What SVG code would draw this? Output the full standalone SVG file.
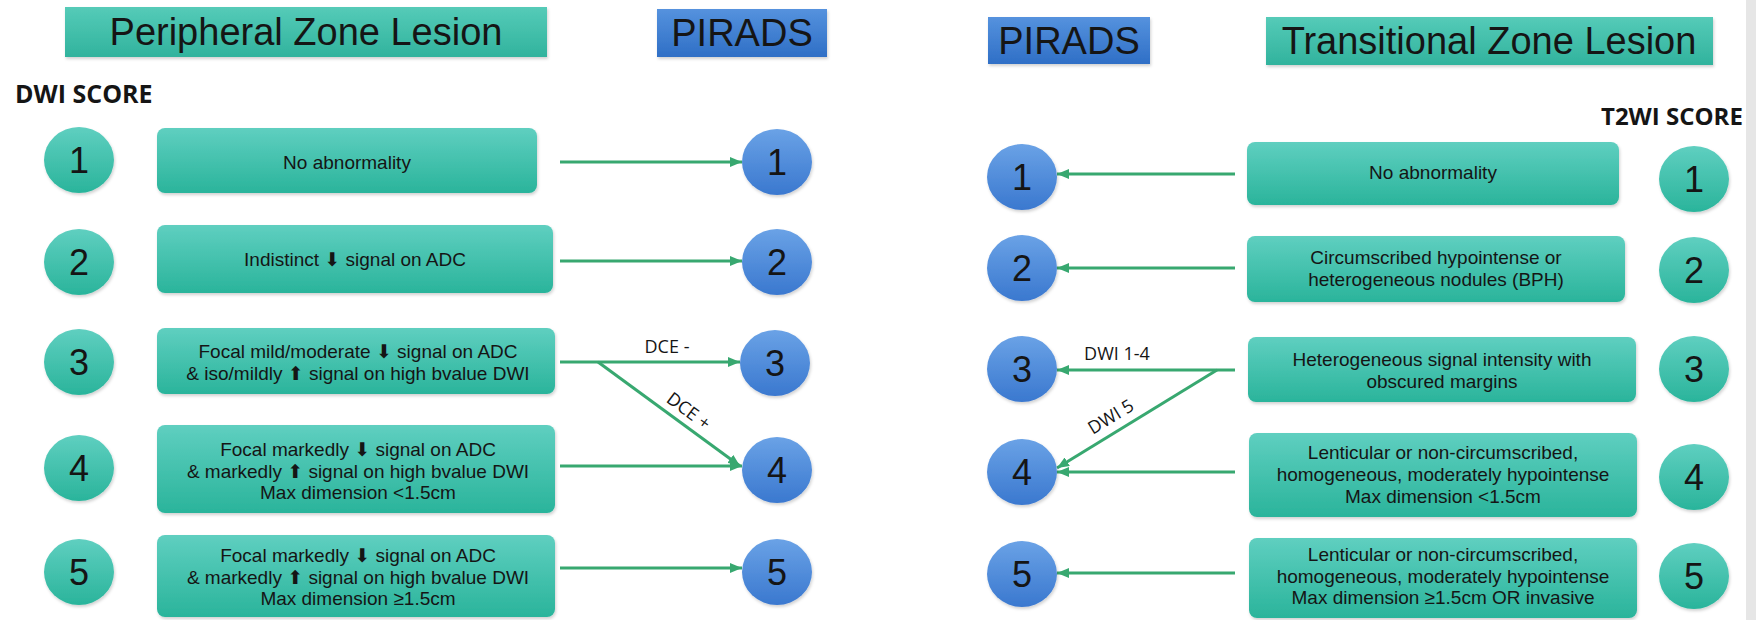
<svg xmlns="http://www.w3.org/2000/svg" width="1756" height="620" viewBox="0 0 1756 620">
<defs>
<linearGradient id="teal" x1="0" y1="0" x2="0" y2="1">
<stop offset="0" stop-color="#5fcfc0"/>
<stop offset="1" stop-color="#2ab49b"/>
</linearGradient>
<linearGradient id="tealH" x1="0" y1="0" x2="0" y2="1">
<stop offset="0" stop-color="#55cbb8"/>
<stop offset="1" stop-color="#31b39d"/>
</linearGradient>
<linearGradient id="blue" x1="0" y1="0" x2="0" y2="1">
<stop offset="0" stop-color="#6aa2e6"/>
<stop offset="1" stop-color="#3a78cf"/>
</linearGradient>
<linearGradient id="blueH" x1="0" y1="0" x2="0" y2="1">
<stop offset="0" stop-color="#5592de"/>
<stop offset="1" stop-color="#2f6fc6"/>
</linearGradient>
<marker id="ah" markerUnits="userSpaceOnUse" markerWidth="12" markerHeight="10" refX="12" refY="5" orient="auto">
<path d="M0,0 L12,5 L0,10 z" fill="#38a870"/>
</marker>
<filter id="sh" x="-5%" y="-10%" width="110%" height="125%">
<feDropShadow dx="1" dy="2" stdDeviation="1.5" flood-color="#000" flood-opacity="0.18"/>
</filter>
</defs>
<style>
.box{fill:url(#teal);filter:url(#sh)}
.tc{fill:url(#teal);filter:url(#sh)}
.bc{fill:url(#blue);filter:url(#sh)}
.hT{fill:url(#tealH);filter:url(#sh)}
.hB{fill:url(#blueH);filter:url(#sh)}
.t{font-family:'Liberation Sans',Arial,sans-serif;font-size:19px;fill:#151515;text-anchor:middle}
.n{font-family:'Liberation Sans',Arial,sans-serif;font-size:36px;fill:#151515;text-anchor:middle}
.h{font-family:'Liberation Sans',Arial,sans-serif;font-size:38px;fill:#151515;text-anchor:middle}
.lb{font-family:'Open Sans','Liberation Sans',sans-serif;font-size:18px;fill:#151515;text-anchor:middle}
.sc{font-family:'Open Sans','Liberation Sans',sans-serif;font-size:25px;font-weight:bold;fill:#151515}
.ar{font-family:'DejaVu Sans',sans-serif;font-size:19px}
.conn line{stroke:#38a870;stroke-width:3;marker-end:url(#ah)}
</style>
<rect width="1756" height="620" fill="#ffffff"/>

<g id="hdr-pz"><rect class="hT" x="65" y="7" width="482" height="50"/><text class="h" x="306" y="45">Peripheral Zone Lesion</text></g>
<g id="hdr-pirads-l"><rect class="hB" x="657" y="9" width="170" height="48"/><text class="h" x="742" y="46">PIRADS</text></g>
<g id="hdr-pirads-r"><rect class="hB" x="988" y="17" width="162" height="47"/><text class="h" x="1069" y="54">PIRADS</text></g>
<g id="hdr-tz"><rect class="hT" x="1266" y="17" width="447" height="48"/><text class="h" x="1489" y="54">Transitional Zone Lesion</text></g>
<text id="dwi-score" class="sc" x="15" y="103">DWI SCORE</text>
<text id="t2wi-score" class="sc" x="1601" y="125" style="font-size:24px">T2WI SCORE</text>

<g id="connectors" class="conn">
<line x1="560" y1="162" x2="742" y2="162"/>
<line x1="560" y1="261" x2="742" y2="261"/>
<line x1="560" y1="362" x2="740" y2="362"/>
<line x1="598" y1="362" x2="740" y2="466"/>
<line x1="560" y1="466" x2="742" y2="466"/>
<line x1="560" y1="568" x2="742" y2="568"/>
<line x1="1235" y1="174" x2="1057" y2="174"/>
<line x1="1235" y1="268" x2="1057" y2="268"/>
<line x1="1235" y1="370" x2="1057" y2="370"/>
<line x1="1217" y1="370" x2="1057" y2="468"/>
<line x1="1235" y1="472" x2="1057" y2="472"/>
<line x1="1235" y1="573" x2="1057" y2="573"/>
<text class="lb" x="667" y="353">DCE -</text>
<text class="lb" transform="translate(685,416) rotate(36.6)" x="0" y="0">DCE +</text>
<text class="lb" x="1117" y="360">DWI 1-4</text>
<text class="lb" transform="translate(1114,422) rotate(-31.4)" x="0" y="0">DWI 5</text>
</g>

<g id="pz-score-1"><ellipse class="tc" cx="79" cy="160" rx="35" ry="33"/><text class="n" x="79" y="173">1</text></g>
<g id="pz-score-2"><ellipse class="tc" cx="79" cy="262" rx="35" ry="33"/><text class="n" x="79" y="275">2</text></g>
<g id="pz-score-3"><ellipse class="tc" cx="79" cy="362" rx="35" ry="33"/><text class="n" x="79" y="375">3</text></g>
<g id="pz-score-4"><ellipse class="tc" cx="79" cy="468" rx="35" ry="33"/><text class="n" x="79" y="481">4</text></g>
<g id="pz-score-5"><ellipse class="tc" cx="79" cy="572" rx="35" ry="33"/><text class="n" x="79" y="585">5</text></g>

<g id="pz-desc-1"><rect class="box" x="157" y="128" width="380" height="65" rx="8"/><text class="t" x="347" y="169">No abnormality</text></g>
<g id="pz-desc-2"><rect class="box" x="157" y="225" width="396" height="68" rx="8"/><text class="t" x="355" y="266">Indistinct <tspan class="ar">⬇</tspan> signal on ADC</text></g>
<g id="pz-desc-3"><rect class="box" x="157" y="328" width="398" height="66" rx="8"/><text class="t" x="358" y="358">Focal mild/moderate <tspan class="ar">⬇</tspan> signal on ADC</text><text class="t" x="358" y="380">&amp; iso/mildly <tspan class="ar">⬆</tspan> signal on high bvalue DWI</text></g>
<g id="pz-desc-4"><rect class="box" x="157" y="425" width="398" height="88" rx="8"/><text class="t" x="358" y="456">Focal markedly <tspan class="ar">⬇</tspan> signal on ADC</text><text class="t" x="358" y="478">&amp; markedly <tspan class="ar">⬆</tspan> signal on high bvalue DWI</text><text class="t" x="358" y="499">Max dimension &lt;1.5cm</text></g>
<g id="pz-desc-5"><rect class="box" x="157" y="535" width="398" height="82" rx="8"/><text class="t" x="358" y="562">Focal markedly <tspan class="ar">⬇</tspan> signal on ADC</text><text class="t" x="358" y="584">&amp; markedly <tspan class="ar">⬆</tspan> signal on high bvalue DWI</text><text class="t" x="358" y="605">Max dimension ≥1.5cm</text></g>

<g id="pz-pirads-1"><ellipse class="bc" cx="777" cy="162" rx="35" ry="33"/><text class="n" x="777" y="175">1</text></g>
<g id="pz-pirads-2"><ellipse class="bc" cx="777" cy="262" rx="35" ry="33"/><text class="n" x="777" y="275">2</text></g>
<g id="pz-pirads-3"><ellipse class="bc" cx="775" cy="363" rx="35" ry="33"/><text class="n" x="775" y="376">3</text></g>
<g id="pz-pirads-4"><ellipse class="bc" cx="777" cy="470" rx="35" ry="33"/><text class="n" x="777" y="483">4</text></g>
<g id="pz-pirads-5"><ellipse class="bc" cx="777" cy="572" rx="35" ry="33"/><text class="n" x="777" y="585">5</text></g>

<g id="tz-pirads-1"><ellipse class="bc" cx="1022" cy="177" rx="35" ry="33"/><text class="n" x="1022" y="190">1</text></g>
<g id="tz-pirads-2"><ellipse class="bc" cx="1022" cy="268" rx="35" ry="33"/><text class="n" x="1022" y="281">2</text></g>
<g id="tz-pirads-3"><ellipse class="bc" cx="1022" cy="369" rx="35" ry="33"/><text class="n" x="1022" y="382">3</text></g>
<g id="tz-pirads-4"><ellipse class="bc" cx="1022" cy="472" rx="35" ry="33"/><text class="n" x="1022" y="485">4</text></g>
<g id="tz-pirads-5"><ellipse class="bc" cx="1022" cy="574" rx="35" ry="33"/><text class="n" x="1022" y="587">5</text></g>

<g id="tz-desc-1"><rect class="box" x="1247" y="142" width="372" height="63" rx="8"/><text class="t" x="1433" y="179">No abnormality</text></g>
<g id="tz-desc-2"><rect class="box" x="1247" y="236" width="378" height="66" rx="8"/><text class="t" x="1436" y="264">Circumscribed hypointense or</text><text class="t" x="1436" y="286">heterogeneous nodules (BPH)</text></g>
<g id="tz-desc-3"><rect class="box" x="1248" y="337" width="388" height="65" rx="8"/><text class="t" x="1442" y="366">Heterogeneous signal intensity with</text><text class="t" x="1442" y="388">obscured margins</text></g>
<g id="tz-desc-4"><rect class="box" x="1249" y="433" width="388" height="84" rx="8"/><text class="t" x="1443" y="459">Lenticular or non-circumscribed,</text><text class="t" x="1443" y="481">homogeneous, moderately hypointense</text><text class="t" x="1443" y="503">Max dimension &lt;1.5cm</text></g>
<g id="tz-desc-5"><rect class="box" x="1249" y="538" width="388" height="80" rx="8"/><text class="t" x="1443" y="561">Lenticular or non-circumscribed,</text><text class="t" x="1443" y="583">homogeneous, moderately hypointense</text><text class="t" x="1443" y="604">Max dimension ≥1.5cm OR invasive</text></g>

<g id="tz-score-1"><ellipse class="tc" cx="1694" cy="179" rx="35" ry="33"/><text class="n" x="1694" y="192">1</text></g>
<g id="tz-score-2"><ellipse class="tc" cx="1694" cy="270" rx="35" ry="33"/><text class="n" x="1694" y="283">2</text></g>
<g id="tz-score-3"><ellipse class="tc" cx="1694" cy="369" rx="35" ry="33"/><text class="n" x="1694" y="382">3</text></g>
<g id="tz-score-4"><ellipse class="tc" cx="1694" cy="477" rx="35" ry="33"/><text class="n" x="1694" y="490">4</text></g>
<g id="tz-score-5"><ellipse class="tc" cx="1694" cy="576" rx="35" ry="33"/><text class="n" x="1694" y="589">5</text></g>

<rect id="edge-band" x="1746" y="0" width="10" height="620" fill="#e6e6e6"/>
</svg>
